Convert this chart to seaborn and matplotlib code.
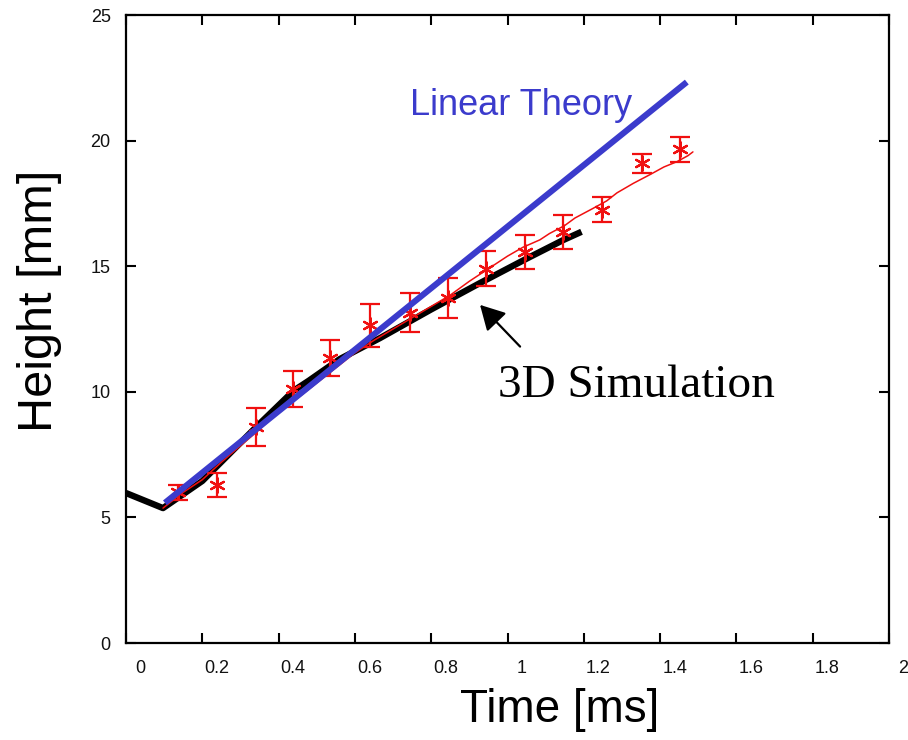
import numpy as np
import pandas as pd
import matplotlib
matplotlib.use("Agg")
import matplotlib.pyplot as plt
from matplotlib.transforms import ScaledTranslation
import seaborn as sns

# ---- data ----
theory_t = [0.102, 1.47]
theory_h = [5.58, 22.33]

sim_t = [0.0, 0.097, 0.2, 0.338, 0.44, 0.48, 0.56, 0.666, 0.8, 0.928, 1.05, 1.146, 1.194]
sim_h = [5.97, 5.37, 6.45, 8.55, 10.05, 10.45, 11.3, 12.14, 13.28, 14.33, 15.3, 16.04, 16.37]

run_t = [0.097, 0.15, 0.2, 0.25, 0.3, 0.35, 0.4, 0.45, 0.5, 0.55, 0.6, 0.65, 0.7,
         0.75, 0.8, 0.85, 0.9, 0.95, 1.0, 1.04, 1.085, 1.11, 1.15, 1.177, 1.224,
         1.26, 1.287, 1.33, 1.374, 1.41, 1.444, 1.473, 1.486]
run_h = [5.37, 6.0, 6.5, 7.2, 7.85, 8.5, 9.2, 9.75, 10.35, 10.95, 11.55, 12.05, 12.5,
         12.95, 13.4, 13.85, 14.4, 14.9, 15.4, 15.75, 16.05, 16.3, 16.62, 16.92, 17.3,
         17.6, 17.92, 18.3, 18.65, 18.95, 19.16, 19.4, 19.55]

exp_t = [0.136, 0.238, 0.341, 0.439, 0.535, 0.640, 0.744, 0.845, 0.944, 1.046, 1.146, 1.249, 1.352, 1.452]
exp_h = [6.0, 6.3, 8.6, 10.1, 11.35, 12.65, 13.15, 13.75, 14.9, 15.55, 16.35, 17.25, 19.1, 19.65]
exp_err = [0.3, 0.48, 0.76, 0.72, 0.72, 0.85, 0.78, 0.8, 0.7, 0.68, 0.67, 0.5, 0.37, 0.5]

x_ticks = [0, 0.2, 0.4, 0.6, 0.8, 1, 1.2, 1.4, 1.6, 1.8, 2]
x_tick_labels = ["0", "0.2", "0.4", "0.6", "0.8", "1", "1.2", "1.4", "1.6", "1.8", "2"]
y_ticks = [0, 5, 10, 15, 20, 25]
y_tick_labels = ["0", "5", "10", "15", "20", "25"]

BLUE = "#3b3bcc"
RED = "#f01010"

sns.set_theme(style="ticks")
plt.rcParams["font.family"] = ["Liberation Sans", "DejaVu Sans"]
plt.rcParams["text.color"] = "black"

fig = plt.figure(figsize=(9.08, 7.40), dpi=100)
ax = fig.add_axes([126 / 908, 1 - 643 / 740, (889 - 126) / 908, (643 - 15) / 740])

sns.lineplot(x=sim_t, y=sim_h, ax=ax, color="black", lw=4.6, sort=False,
             estimator=None, zorder=2, solid_capstyle="butt")
sns.lineplot(x=run_t, y=run_h, ax=ax, color=RED, lw=1.1, sort=False,
             estimator=None, zorder=3)
ax.errorbar(exp_t, exp_h, yerr=exp_err, fmt="none", ecolor=RED, elinewidth=1.6,
            capsize=7.5, capthick=1.6, zorder=3)
sns.scatterplot(x=exp_t, y=exp_h, ax=ax, marker=(6, 2, 0), s=110, color=RED,
                linewidth=1.6, edgecolor=RED, zorder=3)
sns.lineplot(x=theory_t, y=theory_h, ax=ax, color=BLUE, lw=4.4, sort=False,
             estimator=None, zorder=4, solid_capstyle="butt")

ax.set_xlim(0, 2)
ax.set_ylim(0, 25)
ax.set_xticks(x_ticks)
ax.set_xticklabels(x_tick_labels)
ax.set_yticks(y_ticks)
ax.set_yticklabels(y_tick_labels)
ax.tick_params(direction="in", top=True, right=True, length=7, width=1.5,
               labelsize=13, colors="black", labelcolor="#111111")
ax.tick_params(axis="x", pad=12)
ax.tick_params(axis="y", pad=11)
for lab in ax.get_xticklabels():
    lab.set_transform(lab.get_transform() + ScaledTranslation(14.5 / 100, 0, fig.dpi_scale_trans))
for s in ax.spines.values():
    s.set_linewidth(1.6)
    s.set_color("black")
ax.set_xlabel("")
ax.set_ylabel("")

ax.text(0.744, 21.02, "Linear Theory", color=BLUE, fontsize=26,
        ha="left", va="baseline", family=["Liberation Sans", "DejaVu Sans"])
ax.text(0.975, 9.8, "3D Simulation", color="black", fontsize=34,
        ha="left", va="baseline", family=["Liberation Serif", "DejaVu Serif"])
ax.annotate("", xy=(0.928, 13.46), xytext=(1.033, 11.8),
            arrowprops=dict(arrowstyle="-|>,head_length=1.0,head_width=0.55",
                            color="black", lw=1.6, shrinkA=0, shrinkB=0,
                            mutation_scale=15))

fig.text(460 / 908, 1 - 722 / 740, "Time [ms]", fontsize=33, ha="left", va="baseline",
         color="black")
fig.text(52 / 908, 1 - 432 / 740, "Height [mm]", fontsize=35, rotation=90,
         rotation_mode="anchor", ha="left", va="baseline", color="black")

fig.savefig("out.png", dpi=100)
